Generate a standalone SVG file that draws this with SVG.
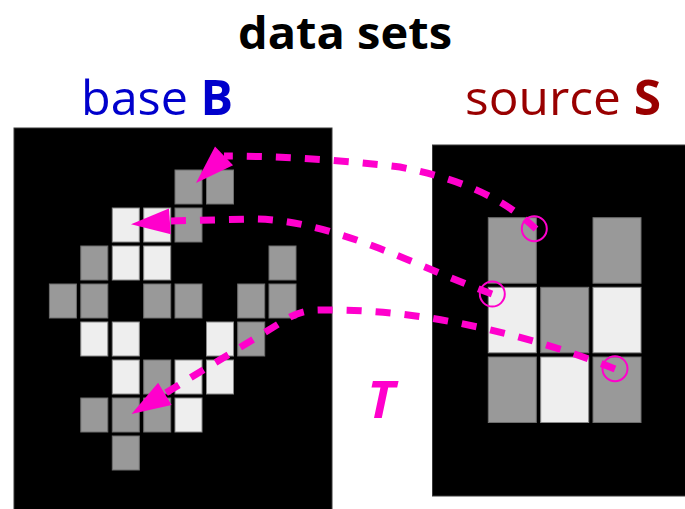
<svg xmlns="http://www.w3.org/2000/svg" width="685" height="509" viewBox="0 0 685 509">
<style>
.panel{fill:#000;stroke:#3a3a3a;stroke-width:1}
.g{fill:#999;stroke:#6e6e6e;stroke-width:1}
.l{fill:#eee;stroke:#8a8a8a;stroke-width:1}
.title{font-family:"Open Sans","DejaVu Sans",sans-serif;font-weight:bold;font-size:45px;fill:#000}
.lab{font-family:"Open Sans","DejaVu Sans",sans-serif;font-size:48px}
.conn{fill:none;stroke:#ff00cc;stroke-width:7;stroke-dasharray:15 14}
.head{fill:#ff00cc}
.mark{fill:none;stroke:#ff00cc;stroke-width:2}
</style>
<defs>
<path id="ah" d="M0,0 L-39,-13 L-39,13 Z"/>
</defs>
<rect width="685" height="509" fill="#fff"/>
<g id="title"><text class="title" x="345" y="49" text-anchor="middle" textLength="214" lengthAdjust="spacingAndGlyphs">data sets</text></g>
<g id="label-base"><text class="lab" x="157" y="115" text-anchor="middle" fill="#0000cc" textLength="152" lengthAdjust="spacingAndGlyphs">base <tspan font-weight="bold">B</tspan></text></g>
<g id="label-source"><text class="lab" x="563" y="115" text-anchor="middle" fill="#990000" textLength="196" lengthAdjust="spacingAndGlyphs">source <tspan font-weight="bold">S</tspan></text></g>
<g id="base-B">
<rect class="panel" x="14" y="128" width="318" height="390"/>
<rect class="g" x="175" y="170" width="27" height="34"/>
<rect class="g" x="206.5" y="170" width="27" height="34"/>
<rect class="l" x="112.3" y="208" width="27" height="34"/>
<rect class="l" x="143.7" y="208" width="27" height="34"/>
<rect class="g" x="175" y="208" width="27" height="34"/>
<rect class="g" x="80.8" y="246" width="27" height="34"/>
<rect class="l" x="112.3" y="246" width="27" height="34"/>
<rect class="l" x="143.7" y="246" width="27" height="34"/>
<rect class="g" x="269" y="246" width="27" height="34"/>
<rect class="g" x="49.4" y="284" width="27" height="34"/>
<rect class="g" x="80.8" y="284" width="27" height="34"/>
<rect class="g" x="143.7" y="284" width="27" height="34"/>
<rect class="g" x="175" y="284" width="27" height="34"/>
<rect class="g" x="237.7" y="284" width="27" height="34"/>
<rect class="g" x="269" y="284" width="27" height="34"/>
<rect class="l" x="80.8" y="322" width="27" height="34"/>
<rect class="l" x="112.3" y="322" width="27" height="34"/>
<rect class="l" x="206.5" y="322" width="27" height="34"/>
<rect class="g" x="237.7" y="322" width="27" height="34"/>
<rect class="l" x="112.3" y="360" width="27" height="34"/>
<rect class="g" x="143.7" y="360" width="27" height="34"/>
<rect class="l" x="175" y="360" width="27" height="34"/>
<rect class="l" x="206.5" y="360" width="27" height="34"/>
<rect class="g" x="80.8" y="398" width="27" height="34"/>
<rect class="g" x="112.3" y="398" width="27" height="34"/>
<rect class="g" x="143.7" y="398" width="27" height="34"/>
<rect class="l" x="175" y="398" width="27" height="34"/>
<rect class="g" x="112.3" y="436" width="27" height="34"/>
</g>
<g id="source-S">
<rect class="panel" x="432.5" y="145" width="260" height="351"/>
<rect class="g" x="488.3" y="217.7" width="48" height="65.5"/>
<rect class="g" x="593" y="217.7" width="48" height="65.5"/>
<rect class="l" x="488.3" y="287.3" width="48" height="65.5"/>
<rect class="g" x="540.7" y="287.3" width="48" height="65.5"/>
<rect class="l" x="593" y="287.3" width="48" height="65.5"/>
<rect class="g" x="488.3" y="357" width="48" height="65.5"/>
<rect class="l" x="540.7" y="357" width="48" height="65.5"/>
<rect class="g" x="593" y="357" width="48" height="65.5"/>
<circle class="mark" cx="534.3" cy="228.7" r="12.5"/>
<circle class="mark" cx="492.3" cy="294" r="12.5"/>
<circle class="mark" cx="615" cy="368.7" r="12.5"/>
</g>
<g id="connectors">
<path class="conn" d="M536,229 C500,195 455,178 400,167 C340,160 280,156 224,156"/>
<use href="#ah" class="head" transform="translate(196,183) rotate(136)"/>
<path class="conn" d="M492,294 C420,268 330,218 250,219 L171,221"/>
<use href="#ah" class="head" transform="translate(131,224.3) rotate(175.7)"/>
<path class="conn" d="M615,369 C530,335 420,308 320,310 Q300,310 285,320 L164,394"/>
<use href="#ah" class="head" transform="translate(131.5,414) rotate(148.8)"/>
</g>
<g id="label-T"><text x="381" y="418" text-anchor="middle" font-family="'Open Sans','DejaVu Sans',sans-serif" font-weight="bold" font-style="italic" font-size="52" fill="#ff00cc">T</text></g>
</svg>
